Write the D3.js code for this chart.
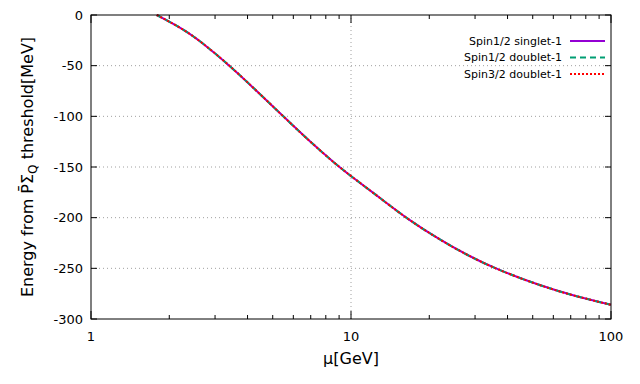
<!DOCTYPE html>
<html>
<head>
<meta charset="utf-8">
<script src="https://cdn.jsdelivr.net/npm/d3@7"></script>
<style>
  body { margin: 0; background: #fff; }
  text { font-family: "DejaVu Sans", sans-serif; }
</style>
</head>
<body>
<div id="chart"></div>
<script>
// values
const mu = [1.79, 2.27, 2.7, 3.42, 4.34, 5.49, 6.95, 8.81, 10, 13, 16.4, 22, 28, 36.3, 53.3, 71.6, 100];
const energy = [0, -14, -28, -50, -75, -100, -125, -148, -159, -181, -201, -222, -237, -251, -267, -277, -286];
const seriesNames = ["Spin1/2 singlet-1", "Spin1/2 doublet-1", "Spin3/2 doublet-1"];
const seriesColors = ["#9400d3", "#009e73", "#ff0000"];
const seriesDash = [null, "6,4", "2,2"];
const yTicks = [0, -50, -100, -150, -200, -250, -300];
const xTicks = [1, 10, 100];

const width = 640, height = 384;
const margin = {top: 15, right: 29, bottom: 65, left: 91};

const svg = d3.select("#chart").append("svg")
  .attr("width", width)
  .attr("height", height);

const x = d3.scaleLog().domain([1, 100]).range([margin.left, width - margin.right]);
const y = d3.scaleLinear().domain([-300, 0]).range([height - margin.bottom, margin.top]);

const x0 = x.range()[0], x1 = x.range()[1];
const y0 = y.range()[0], y1 = y.range()[1];

// grid
svg.selectAll(".gy").data(yTicks.filter(d => d != 0 && d != -300))
  .enter().append("line")
  .attr("x1", x0).attr("x2", x1)
  .attr("y1", d => y(d)).attr("y2", d => y(d))
  .attr("stroke", "#a0a0a0").attr("stroke-width", 1)
  .attr("stroke-dasharray", "1,3");
svg.append("line")
  .attr("x1", x(10)).attr("x2", x(10))
  .attr("y1", y0).attr("y2", y1)
  .attr("stroke", "#a0a0a0").attr("stroke-width", 1)
  .attr("stroke-dasharray", "1,3");

// ticks
let minor = [];
for (let d = 1; d <= 100; d *= 10) for (let k = 2; k <= 9; k++) if (d * k < 100) minor.push(d * k);

const tick = svg.append("g").attr("stroke", "#000").attr("stroke-width", 1);
xTicks.forEach(d => {
  tick.append("line").attr("x1", x(d)).attr("x2", x(d)).attr("y1", y0).attr("y2", y0 - 8);
  tick.append("line").attr("x1", x(d)).attr("x2", x(d)).attr("y1", y1).attr("y2", y1 + 8);
});
minor.forEach(d => {
  tick.append("line").attr("x1", x(d)).attr("x2", x(d)).attr("y1", y0).attr("y2", y0 - 4);
  tick.append("line").attr("x1", x(d)).attr("x2", x(d)).attr("y1", y1).attr("y2", y1 + 4);
});
yTicks.forEach(d => {
  tick.append("line").attr("x1", x0).attr("x2", x0 + 6).attr("y1", y(d)).attr("y2", y(d));
  tick.append("line").attr("x1", x1).attr("x2", x1 - 6).attr("y1", y(d)).attr("y2", y(d));
});

// tick labels
svg.selectAll(".yl").data(yTicks).enter().append("text")
  .attr("x", x0 - 8).attr("y", d => y(d))
  .attr("dy", "0.35em")
  .attr("text-anchor", "end")
  .attr("font-size", 13)
  .text(d => d);
svg.selectAll(".xl").data(xTicks).enter().append("text")
  .attr("x", d => x(d)).attr("y", y0 + 22)
  .attr("text-anchor", "middle")
  .attr("font-size", 13)
  .text(d => d);

// lines
const line = d3.line()
  .x((d, i) => x(mu[i]))
  .y(d => y(d))
  .curve(d3.curveBasis);

seriesNames.forEach((name, i) => {
  svg.append("path")
    .datum(energy)
    .attr("d", line)
    .attr("fill", "none")
    .attr("stroke", seriesColors[i])
    .attr("stroke-width", 2)
    .attr("stroke-dasharray", seriesDash[i]);
});

// frame
svg.append("rect")
  .attr("x", x0).attr("y", y1)
  .attr("width", x1 - x0).attr("height", y0 - y1)
  .attr("fill", "none").attr("stroke", "#000").attr("stroke-width", 1);

// legend
const leg = svg.append("g");
seriesNames.forEach((name, i) => {
  const ly = 41 + i * 16.5;
  leg.append("text")
    .attr("x", 562).attr("y", ly)
    .attr("dy", "0.35em")
    .attr("text-anchor", "end")
    .attr("font-size", 11)
    .text(name);
  leg.append("line")
    .attr("x1", 570).attr("x2", 605)
    .attr("y1", ly).attr("y2", ly)
    .attr("stroke", seriesColors[i])
    .attr("stroke-width", 2)
    .attr("stroke-dasharray", seriesDash[i]);
});

// axis titles
svg.append("text")
  .attr("x", x(10)).attr("y", 364)
  .attr("text-anchor", "middle")
  .attr("font-size", 16)
  .text("μ[GeV]");

const yt = svg.append("text")
  .attr("transform", `translate(33, ${(y0 + y1) / 2}) rotate(-90)`)
  .attr("text-anchor", "middle")
  .attr("font-size", 16);
yt.append("tspan").text("Energy from P\u0304\u03A3");
yt.append("tspan").attr("font-size", 12).attr("dy", 4).text("Q");
yt.append("tspan").attr("dy", -4).text(" threshold[MeV]");
</script>
</body>
</html>
